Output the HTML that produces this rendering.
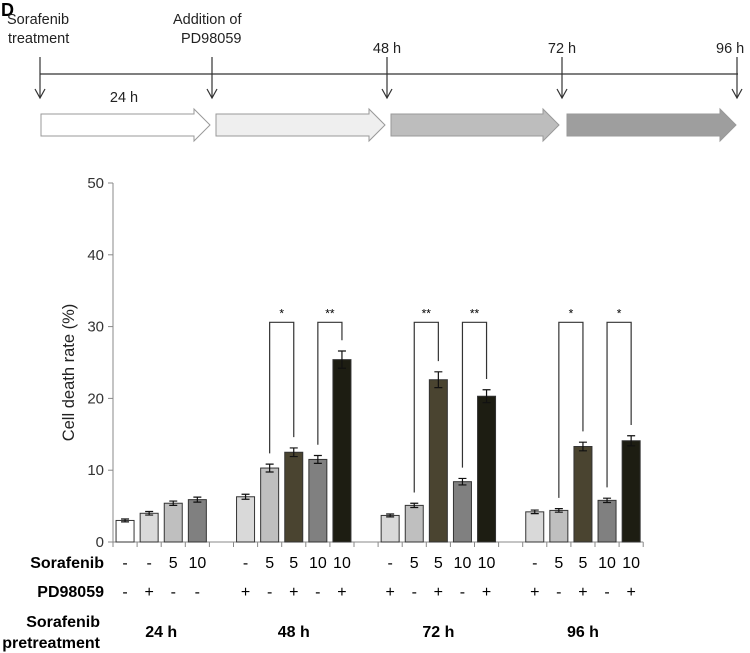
<!DOCTYPE html>
<html><head><meta charset="utf-8"><style>body{margin:0;background:#fff}svg{display:block;font-family:"Liberation Sans",sans-serif}</style></head>
<body>
<svg id="c" width="750" height="653">
<text x="1" y="16" font-size="18" font-weight="bold">D</text>
<g id="tl">
<line x1="40" y1="74" x2="738" y2="74" stroke="#333" stroke-width="1.3"/>
</g>
<g id="plot"></g>
</svg>
<script>
const groups=["24 h","48 h","72 h","96 h"];
const values=[[3.0,4.0,5.4,5.9],[6.3,10.3,12.5,11.5,25.4],[3.7,5.1,22.6,8.4,20.3],[4.2,4.4,13.3,5.8,14.1]];
const errors=[[0.2,0.25,0.3,0.35],[0.35,0.55,0.6,0.55,1.2],[0.2,0.3,1.1,0.45,0.9],[0.25,0.25,0.6,0.3,0.7]];
const sorafenib=[["-","-","5","10"],["-","5","5","10","10"],["-","5","5","10","10"],["-","5","5","10","10"]];
const pd=[["-","+","-","-"],["+","-","+","-","+"],["+","-","+","-","+"],["+","-","+","-","+"]];
const sig=[[],[[1,2,"*"],[3,4,"**"]],[[1,2,"**"],[3,4,"**"]],[[1,2,"*"],[3,4,"*"]]];
const yTicks=[0,10,20,30,40,50];
const NS="http://www.w3.org/2000/svg";
function mk(p,t,a,txt){const e=document.createElementNS(NS,t);for(const k in a)e.setAttribute(k,a[k]);if(txt!==undefined)e.textContent=txt;p.appendChild(e);return e;}
const svg=document.getElementById('c');
const tl=document.getElementById('tl');
const tX=[40,212,387,562,737];
tX.forEach(x=>{mk(tl,'line',{x1:x,y1:57,x2:x,y2:98,stroke:'#333','stroke-width':1.2});mk(tl,'path',{d:`M${x-5},89 L${x},98 L${x+5},89`,fill:'none',stroke:'#333','stroke-width':1.2});});
const tlab=[[7,24,"Sorafenib","start"],[8,43,"treatment","start"],[173,24,"Addition of","start"],[181,43,"PD98059","start"],[387,53,"48 h","middle"],[562,53,"72 h","middle"],[716,53,"96 h","start"],[124,102,"24 h","middle"]];
tlab.forEach(l=>{const t=mk(tl,'text',{x:l[0],y:l[1],'font-size':14.5,'text-anchor':l[3],fill:'#222'},l[2]);});
const arrCol=["#ffffff","#efefef","#bdbdbd","#9e9e9e"];
const arrX=[[41,210],[216,385],[391,559],[567,736]];
arrX.forEach((a,i)=>{const p=mk(tl,'path',{d:`M${a[0]},114 L${a[1]-16},114 L${a[1]-16},109 L${a[1]},125 L${a[1]-16},141 L${a[1]-16},136 L${a[0]},136 Z`,fill:arrCol[i],stroke:'#999','stroke-width':1});});
const g=document.getElementById('plot');
const X0=113,SLOT=24.1,Y0=542,YT=183;
const y=v=>Y0-(v/50)*(Y0-YT);
mk(g,'line',{x1:X0,y1:YT,x2:X0,y2:Y0,stroke:'#888','stroke-width':1});
mk(g,'line',{x1:X0,y1:Y0,x2:X0+SLOT*22,y2:Y0,stroke:'#888','stroke-width':1});
yTicks.forEach(t=>{mk(g,'line',{x1:X0-5,y1:y(t),x2:X0,y2:y(t),stroke:'#888'});const e=mk(g,'text',{x:X0-9,y:y(t)+5,'font-size':15,'text-anchor':'end',fill:'#333'},t);});
for(let i=0;i<=22;i++)mk(g,'line',{x1:X0+SLOT*i,y1:Y0,x2:X0+SLOT*i,y2:Y0+5,stroke:'#888'});
const yt=mk(g,'text',{x:0,y:0,transform:`translate(74,${(Y0+YT)/2+10}) rotate(-90)`,'font-size':16.5,'text-anchor':'middle',fill:'#222'},"Cell death rate (%)");

const cols5=["#d9d9d9","#bfbfbf","#4a4430","#808080","#1d1d12"];
const cols4=["#ffffff","#d9d9d9","#bfbfbf","#808080"];
mk(g,'text',{x:104,y:568,'font-size':16,'font-weight':'bold','text-anchor':'end'},"Sorafenib");
mk(g,'text',{x:104,y:597,'font-size':16,'font-weight':'bold','text-anchor':'end'},"PD98059");
mk(g,'text',{x:100,y:627,'font-size':16,'font-weight':'bold','text-anchor':'end'},"Sorafenib");
mk(g,'text',{x:100,y:648,'font-size':16,'font-weight':'bold','text-anchor':'end'},"pretreatment");
let slot=0;
groups.forEach((gn,gi)=>{
 const start=slot;const vals=values[gi];const cols=vals.length===4?cols4:cols5;
 vals.forEach((v,j)=>{const s=start+j;const cx=X0+SLOT*s+SLOT/2;
  const r=mk(g,'rect',{x:cx-9,y:y(v),width:18,height:Y0-y(v),fill:cols[j],stroke:'#333','stroke-width':1});
  
  const e=errors[gi][j];
  mk(g,'path',{d:`M${cx},${y(v+e)} V${y(v-e)} M${cx-4},${y(v+e)} H${cx+4} M${cx-4},${y(v-e)} H${cx+4}`,stroke:'#111','stroke-width':1.2,fill:'none'});
  mk(g,'text',{x:cx,y:568,'font-size':16,'text-anchor':'middle'},sorafenib[gi][j]);
  mk(g,'text',{x:cx,y:597,'font-size':16,'text-anchor':'middle'},pd[gi][j]);
 });
 const mid=X0+SLOT*(start+(vals.length-1)/2)+SLOT/2;
 const gl=mk(g,'text',{x:mid,y:637,'font-size':16,'font-weight':'bold','text-anchor':'middle'},gn);
 
 sig[gi].forEach(sg=>{const a=X0+SLOT*(start+sg[0])+SLOT/2,b=X0+SLOT*(start+sg[1])+SLOT/2;
  const top=y(30.6);const ya=y(vals[sg[0]]+errors[gi][sg[0]]+1.5),yb=y(vals[sg[1]]+errors[gi][sg[1]]+1.5);
  const p=mk(g,'path',{d:`M${a},${ya} V${top} H${b} V${yb}`,stroke:'#333','stroke-width':1.2,fill:'none'});
  
  mk(g,'text',{x:(a+b)/2,y:top-5,'font-size':12,'text-anchor':'middle'},sg[2]);
 });
 slot+=vals.length+1;
});
</script>
</body></html>
